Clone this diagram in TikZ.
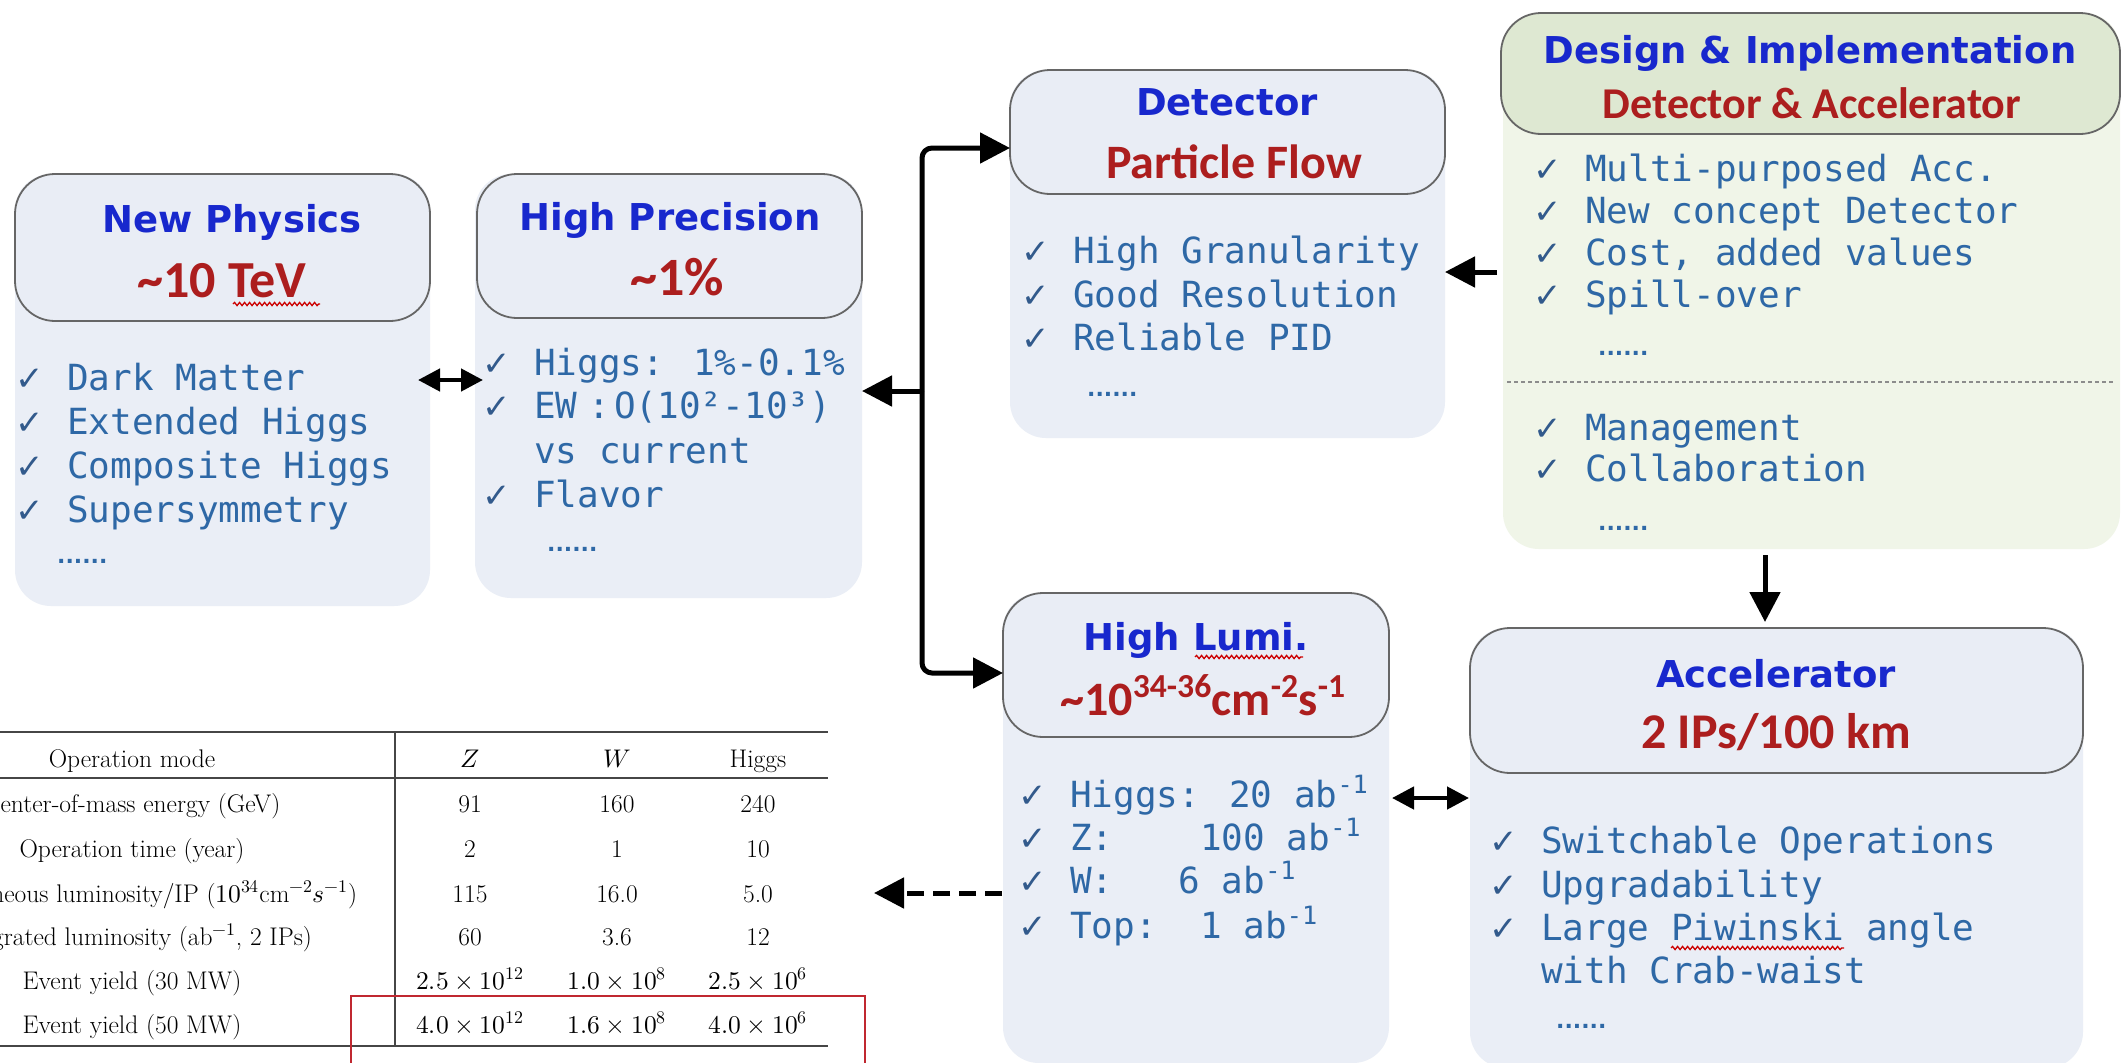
\documentclass[tikz,border=0pt]{standalone}
\usepackage{fontspec}
\usepackage{unicode-math}
\setmathfont{Latin Modern Math}
\newfontfamily\monof{DejaVu Sans Mono}
\newfontfamily\ttlf{DejaVu Sans}
\newfontfamily\subf{Carlito}
\newfontfamily\symf{DejaVu Sans}
\usetikzlibrary{arrows.meta,decorations.pathmorphing,calc}

\definecolor{bodyfill}{RGB}{234,238,246}
\definecolor{headfill}{RGB}{233,237,245}
\definecolor{gbody}{RGB}{240,245,232}
\definecolor{ghead}{RGB}{222,232,210}
\definecolor{tblue}{RGB}{24,40,205}
\definecolor{tred}{RGB}{172,30,30}
\definecolor{itemc}{RGB}{46,104,166}
\definecolor{chkc}{RGB}{50,90,140}
\definecolor{rulec}{RGB}{70,70,70}
\definecolor{boxred}{RGB}{192,40,48}

\tikzset{
 body/.style={fill=bodyfill, rounded corners=36pt, inner sep=0pt, outer sep=0pt, anchor=north west},
 head/.style={fill=headfill, draw=black!60, line width=1.8pt, rounded corners=40pt, inner sep=0pt, outer sep=0pt, anchor=north west},
 ttl/.style={font=\ttlf\bfseries\fontsize{37}{40}\selectfont, text=tblue, anchor=base, inner sep=0pt},
 sub/.style={font=\subf\bfseries\fontsize{48}{52}\selectfont, text=tred, anchor=base, inner sep=0pt},
 itm/.style={font=\monof\fontsize{36}{40}\selectfont, text=itemc, anchor=base west, inner sep=0pt},
 chk/.style={font=\symf\fontsize{34}{36}\selectfont, text=chkc, anchor=base west, inner sep=0pt},
 dotsty/.style={font=\symf\bfseries\fontsize{22}{24}\selectfont, text=itemc, anchor=base west, inner sep=0pt},
 arr/.style={line width=5pt, -{Triangle[length=30pt,width=30pt]}},
 darr/.style={line width=4.5pt, {Triangle[length=22pt,width=22pt]}-{Triangle[length=22pt,width=22pt]}},
 tbl/.style={font=\fontsize{25.5}{30}\selectfont, anchor=base, inner sep=0pt},
 squig/.style={draw=red!80!black, line width=1.3pt, decorate, decoration={snake, amplitude=1.6pt, segment length=5pt}},
}

\newcommand{\ckln}[4]{%
  \node[chk] (#1c) at (#2-52,#3) {✓};
  \node[itm] (#1) at (#2,#3) {#4};}

\begin{document}
\begin{tikzpicture}[x=1pt,y=-1pt]
\useasboundingbox (0,0) rectangle (2126,1063);
\clip (0,0) rectangle (2126,1063);
\fill[white] (0,0) rectangle (2126,1063);

% ---------- New Physics ----------
\node[body, minimum width=415pt, minimum height=432pt] (npb) at (15,174) {};
\node[head, minimum width=415pt, minimum height=147pt] (nph) at (15,174) {};
\node[ttl] (npt) at (232,232) {New Physics};
\node[sub, font=\subf\bfseries\fontsize{52}{56}\selectfont] (nps) at (222,297) {\textasciitilde10 TeV};
\ckln{a1}{67}{390}{Dark Matter}
\ckln{a2}{67}{434}{Extended Higgs}
\ckln{a3}{67}{478}{Composite Higgs}
\ckln{a4}{67}{522}{Supersymmetry}
\node[dotsty] (a5) at (57,563) {......};

% ---------- High Precision ----------
\node[body, minimum width=387pt, minimum height=424pt] (hpb) at (475,174) {};
\node[head, minimum width=385pt, minimum height=144pt] (hph) at (477,174) {};
\node[ttl] (hpt) at (670,230) {High Precision};
\node[sub, font=\subf\bfseries\fontsize{54}{58}\selectfont] (hps) at (677,295) {\textasciitilde1\%};
\ckln{b1}{534}{375}{Higgs: 1\%-0.1\%}
\ckln{b2}{534}{418}{EW\hspace{0.3em}:\hspace{0.12em}O(10²-10³)}
\node[itm] (b3) at (534,463) {vs current};
\ckln{b4}{534}{507}{Flavor}
\node[dotsty] (b5) at (547,551) {......};

% ---------- Detector ----------
\node[body, minimum width=435pt, minimum height=368pt] (detb) at (1010,70) {};
\node[head, minimum width=435pt, minimum height=124pt] (deth) at (1010,70) {};
\node[ttl] (dett) at (1227,115) {Detector};
\node[sub] (dets) at (1234,178) {Particle Flow};
\ckln{c1}{1073}{263}{High Granularity}
\ckln{c2}{1073}{307}{Good Resolution}
\ckln{c3}{1073}{350}{Reliable PID}
\node[dotsty] (c4) at (1087,396) {......};

% ---------- Design & Implementation ----------
\node[body, fill=gbody, minimum width=617pt, minimum height=536pt] (desb) at (1503,13) {};
\node[head, fill=ghead, minimum width=619pt, minimum height=121pt] (desh) at (1501,13) {};
\node[ttl] (dest) at (1810,63) {Design \& Implementation};
\node[sub, font=\subf\bfseries\fontsize{44}{48}\selectfont] (dess) at (1812,118) {Detector \& Accelerator};
\ckln{d1}{1585}{181}{Multi-purposed Acc.}
\ckln{d2}{1585}{223}{New concept Detector}
\ckln{d3}{1585}{265}{Cost, added values}
\ckln{d4}{1585}{307}{Spill-over}
\node[dotsty] (d5) at (1598,355) {......};
\draw[black!45, line width=1.2pt, dash pattern=on 4pt off 3pt] ([xshift=4pt]desb.west |- 0,382) -- ([xshift=-6pt]desb.east |- 0,382);
\ckln{d6}{1585}{440}{Management}
\ckln{d7}{1585}{481}{Collaboration}
\node[dotsty] (d8) at (1598,530) {......};

% ---------- High Lumi ----------
\node[body, minimum width=386pt, minimum height=470pt] (hlb) at (1003,593) {};
\node[head, minimum width=386pt, minimum height=144pt] (hlh) at (1003,593) {};
\node[ttl] (hlt) at (1196,650) {High Lumi.};
\node[sub, font=\subf\bfseries\fontsize{48}{52}\selectfont] (hls) at (1203,715) {\textasciitilde10\textsuperscript{34-36}cm\textsuperscript{-2}s\textsuperscript{-1}};
\ckln{e1}{1070}{807}{Higgs: 20 ab\textsuperscript{-1}}
\ckln{e2}{1070}{850}{Z:\phantom{0000}100 ab\textsuperscript{-1}}
\ckln{e3}{1070}{893}{W:\phantom{000}6 ab\textsuperscript{-1}}
\ckln{e4}{1070}{938}{Top:\phantom{00}1 ab\textsuperscript{-1}}

% ---------- Accelerator ----------
\node[body, minimum width=613pt, minimum height=440pt] (accb) at (1470,628) {};
\node[head, minimum width=613pt, minimum height=145pt] (acch) at (1470,628) {};
\node[ttl] (acct) at (1776,687) {Accelerator};
\node[sub, font=\subf\bfseries\fontsize{50}{54}\selectfont] (accs) at (1776,748) {2 IPs/100 km};
\ckln{f1}{1541}{853}{Switchable Operations}
\ckln{f2}{1541}{897}{Upgradability}
\ckln{f3}{1541}{940}{Large Piwinski angle}
\node[itm] (f4) at (1541,983) {with Crab-waist};
\node[dotsty] (f5) at (1556,1028) {......};

% ---------- spell-check squiggles ----------
\draw[squig] (233,304) -- (320,304);
\draw[squig] (1195,657) -- (1303,657);
\draw[squig] (1671,948) -- (1844,948);

% ---------- table ----------
\draw[rulec, line width=2.6pt] (-5,732) -- (828,732);
\draw[rulec, line width=2pt] (-5,778) -- (828,778);
\draw[rulec, line width=2.6pt] (-5,1046) -- (828,1046);
\draw[rulec, line width=1.3pt] (395,732) -- (395,1046);

\node[tbl] (t00) at (132,767) {Operation mode};
\node[tbl] (t01) at (470,767) {$Z$};
\node[tbl] (t02) at (617,767) {$W$};
\node[tbl] (t03) at (758,767) {Higgs};

\node[tbl] (t10) at (132,812) {Center-of-mass energy (GeV)};
\node[tbl] (t11) at (470,812) {91};
\node[tbl] (t12) at (617,812) {160};
\node[tbl] (t13) at (758,812) {240};

\node[tbl] (t20) at (132,857) {Operation time (year)};
\node[tbl] (t21) at (470,857) {2};
\node[tbl] (t22) at (617,857) {1};
\node[tbl] (t23) at (758,857) {10};

\node[tbl] (t30) at (132,902) {Instantaneous luminosity/IP ($10^{34}\mathrm{cm}^{-2}s^{-1}$)};
\node[tbl] (t31) at (470,902) {115};
\node[tbl] (t32) at (617,902) {16.0};
\node[tbl] (t33) at (758,902) {5.0};

\node[tbl] (t40) at (132,945) {Integrated luminosity (ab$^{-1}$, 2 IPs)};
\node[tbl] (t41) at (470,945) {60};
\node[tbl] (t42) at (617,945) {3.6};
\node[tbl] (t43) at (758,945) {12};

\node[tbl] (t50) at (132,989) {Event yield (30 MW)};
\node[tbl] (t51) at (470,989) {$2.5\times10^{12}$};
\node[tbl] (t52) at (617,989) {$1.0\times10^{8}$};
\node[tbl] (t53) at (758,989) {$2.5\times10^{6}$};

\node[tbl] (t60) at (132,1033) {Event yield (50 MW)};
\node[tbl] (t61) at (470,1033) {$4.0\times10^{12}$};
\node[tbl] (t62) at (617,1033) {$1.6\times10^{8}$};
\node[tbl] (t63) at (758,1033) {$4.0\times10^{6}$};

\draw[boxred, line width=2.5pt] (351,1080) -- (351,996) -- (865,996) -- (865,1080);

% ---------- connectors ----------
\draw[darr] ([xshift=-12pt]npb.east |- 0,380) -- ([xshift=8pt]hpb.west |- 0,380);
\coordinate (jn) at (922,391);
\draw[arr] (jn) -- (hpb.east |- jn);
\draw[arr, rounded corners=10pt] (jn) |- ([yshift=-16pt]deth.west);
\draw[arr, rounded corners=10pt] (jn) |- ([yshift=-8pt]hlh.west);
\draw[arr] ([xshift=-6pt]desb.west |- 0,272) -- (detb.east |- 0,272);
\draw[arr] ([yshift=-6pt]desb.south -| 1765,0) -- ([yshift=6pt]acch.north -| 1765,0);
\draw[darr] ([xshift=3pt]hlb.east |- 0,798) -- ([xshift=-1pt]accb.west |- 0,798);
\coordinate (tblR) at (874,893);
\draw[arr, dash pattern=on 17pt off 9pt] ([xshift=-1pt]hlb.west |- 0,893) -- (tblR);
\end{tikzpicture}
\end{document}
